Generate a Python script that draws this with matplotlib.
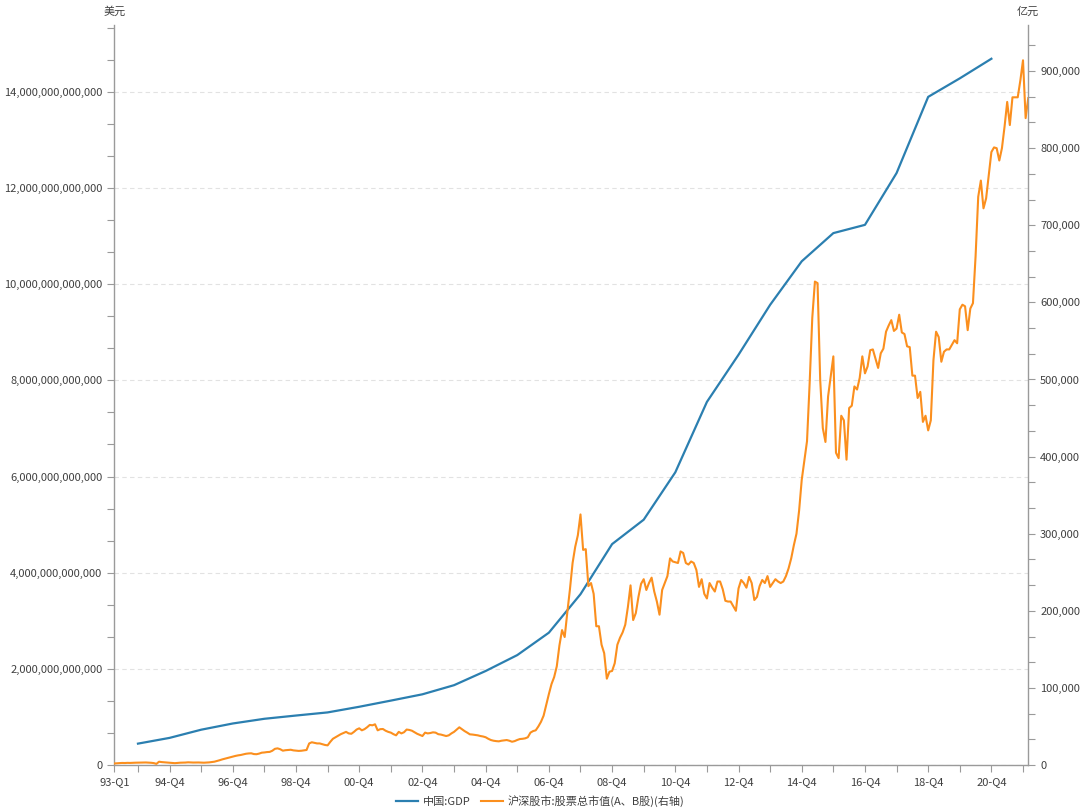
import numpy as np
import matplotlib
matplotlib.use('Agg')
import matplotlib.pyplot as plt
from matplotlib.ticker import FuncFormatter, MultipleLocator, AutoMinorLocator

plt.rcParams['font.family'] = ['Noto Sans CJK SC', 'DejaVu Sans']

# China GDP (USD), one value per year, plotted at the Q4 of that year
gdp_years = list(range(1993, 2021))
gdp_usd = [0.4448e12, 0.5643e12, 0.7345e12, 0.8637e12, 0.9615e12, 1.0290e12, 1.0940e12,
           1.2113e12, 1.3394e12, 1.4706e12, 1.6603e12, 1.9554e12, 2.2860e12, 2.7521e12,
           3.5522e12, 4.5944e12, 5.1017e12, 6.0872e12, 7.5515e12, 8.5322e12, 9.5704e12,
           10.4757e12, 11.0616e12, 11.2333e12, 12.3104e12, 13.8948e12, 14.2799e12, 14.6877e12]

# total market cap of SH+SZ (A, B shares), 亿元, monthly from 1993-01
mkt_cap = [
    2000, 2200, 2500, 2700, 2600, 2800, 2700, 2900, 3000, 3100, 3200, 3300,          # 1993
    3300, 3100, 2900, 2500, 1500, 4300, 3800, 3500, 3300, 3000, 2600, 2400,          # 1994
    2700, 3000, 3100, 3200, 3500, 3300, 3200, 3300, 3300, 3100, 3000, 3200,          # 1995
    3400, 3800, 4300, 5200, 6200, 7300, 8200, 9000, 10000, 11000, 11800, 12500,      # 1996
    13000, 13800, 14600, 15000, 15200, 14200, 14000, 14800, 16000, 16300, 16800, 17000,  # 1997
    18500, 21000, 21600, 20500, 18600, 19200, 19500, 19800, 19000, 18600, 18300, 18500,  # 1998
    19000, 19500, 28000, 29500, 28800, 28000, 28000, 27000, 26000, 25500, 30000, 34000,  # 1999
    36000, 38000, 40000, 41500, 43000, 41000, 40500, 43000, 46000, 47600, 45000, 46500,  # 2000
    49000, 52000, 51500, 52800, 45000, 46500, 46700, 44500, 43000, 42000, 40000, 38500,  # 2001
    43000, 41000, 42500, 46000, 45500, 44500, 42500, 40500, 39000, 37600, 42000, 41000,  # 2002
    41500, 42400, 42000, 40000, 39500, 38500, 37600, 38500, 41000, 43000, 46000, 48900,  # 2003
    46500, 44000, 42000, 39800, 39500, 39000, 38500, 37600, 37000, 36000, 34000, 32400,  # 2004
    31500, 31000, 30700, 31500, 32000, 32400, 31500, 30200, 31000, 32500, 33700, 34000,  # 2005
    34600, 36000, 42000, 44000, 45000, 50000, 56000, 64000, 78000, 92000, 105000, 114000,  # 2006
    128000, 155000, 175000, 166000, 198000, 228000, 262000, 283000, 298000, 325000, 279000, 280000,  # 2007
    232000, 236000, 222000, 180000, 180000, 156000, 145000, 112000, 121000, 122000, 132000, 156000,  # 2008
    165000, 172000, 182000, 205000, 233000, 188000, 197000, 218000, 235000, 241000, 227000, 236000,  # 2009
    243000, 225000, 212000, 195000, 227000, 236000, 245000, 268000, 264000, 263000, 262000, 277000,  # 2010
    275000, 262000, 260000, 264000, 262000, 253000, 231000, 241000, 222000, 216000, 236000, 230000,  # 2011
    225000, 238000, 238000, 228000, 213000, 212000, 212000, 206000, 200000, 229000, 240000, 236000,  # 2012
    230000, 244000, 236000, 214000, 218000, 232000, 240000, 236000, 245000, 231000, 236000, 241000,  # 2013
    238000, 236000, 238000, 245000, 255000, 268000, 285000, 300000, 330000, 370000, 395000, 420000,  # 2014
    495000, 580000, 627000, 625000, 500000, 437000, 419000, 478000, 504000, 530000, 405000, 398000,  # 2015
    453000, 447000, 396000, 463000, 466000, 491000, 487000, 502000, 530000, 508000, 517000, 538000,  # 2016
    539000, 527000, 515000, 534000, 540000, 562000, 570000, 577000, 563000, 566000, 584000, 561000,  # 2017
    559000, 543000, 542000, 505000, 505000, 476000, 484000, 445000, 453000, 434000, 447000, 525000,  # 2018
    562000, 555000, 523000, 536000, 539000, 539000, 545000, 551000, 547000, 591000, 597000, 595000,  # 2019
    564000, 592000, 599000, 660000, 737000, 758000, 722000, 735000, 765000, 795000, 801000, 800000,  # 2020
    784000, 800000, 828000, 860000, 830000, 866000, 866000, 866000, 888000, 914000, 839000, 865000,  # 2021
]

tick_years = [1994, 1996, 1998, 2000, 2002, 2004, 2006, 2008, 2010, 2012, 2014, 2016, 2018, 2020]
tick_labels = ['93-Q1', '94-Q4', '96-Q4', '98-Q4', '00-Q4', '02-Q4', '04-Q4',
               '06-Q4', '08-Q4', '10-Q4', '12-Q4', '14-Q4', '16-Q4', '18-Q4', '20-Q4']

blue = '#2b7fb0'
orange = '#fb8f1e'
grey = '#9a9a9a'
txt = '#404040'

# x = months since 1993-01, Q4 sits at October
x_mkt = np.arange(len(mkt_cap))
x_gdp = np.array([(y - 1993) * 12 + 9 for y in gdp_years])

fig = plt.figure(figsize=(10.8, 8.11), dpi=100)
ax = fig.add_axes([0.1058, 0.0567, 0.8463, 0.9125])
ax2 = ax.twinx()

l1, = ax.plot(x_gdp, gdp_usd, color=blue, lw=1.6, label='中国:GDP')
l2, = ax2.plot(x_mkt, mkt_cap, color=orange, lw=1.5, label='沪深股市:股票总市值(A、B股)(右轴)')

ax.set_xlim(0, len(mkt_cap) - 1)
ax.set_ylim(0, 15.39e12)
ax2.set_ylim(0, 959800)

ax.set_xticks([0] + [(y - 1993) * 12 + 9 for y in tick_years])
ax.set_xticklabels(tick_labels)
ax.set_xticks([(y - 1993) * 12 + 9 for y in range(1993, 2022, 2)], minor=True)

ax.yaxis.set_major_locator(MultipleLocator(2e12))
ax.yaxis.set_minor_locator(AutoMinorLocator(3))
ax.yaxis.set_major_formatter(FuncFormatter(lambda v, p: f'{v:,.0f}'))
ax2.yaxis.set_major_locator(MultipleLocator(100000))
ax2.yaxis.set_minor_locator(AutoMinorLocator(3))
ax2.yaxis.set_major_formatter(FuncFormatter(lambda v, p: f'{v:,.0f}'))

ax.grid(axis='y', color='#e2e2e2', ls=(0, (4, 3)), lw=0.8)
ax.set_axisbelow(True)

for a in (ax, ax2):
    a.spines['top'].set_visible(False)
    for s in ('left', 'right', 'bottom'):
        a.spines[s].set_color(grey)
        a.spines[s].set_linewidth(1.0)
    a.tick_params(which='both', colors=grey, labelcolor=txt, labelsize=8, length=5, width=0.8)
ax.spines['right'].set_visible(False)
ax2.spines['left'].set_visible(False)
ax2.spines['bottom'].set_visible(False)

fig.text(0.1058, 1 - 12 / 811, '美元', ha='center', va='center', fontsize=8, color=txt)
fig.text(0.9521, 1 - 12 / 811, '亿元', ha='center', va='center', fontsize=8, color=txt)

fig.legend(handles=[l1, l2], loc='center', bbox_to_anchor=(0.5, 1 - 801 / 811), ncol=2,
           frameon=False, fontsize=8, handlelength=2.0, columnspacing=0.9,
           handletextpad=0.4, labelcolor=txt)

fig.savefig('out.png', dpi=100)
